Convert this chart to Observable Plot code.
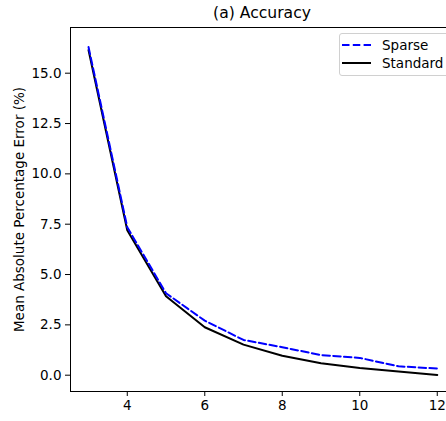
<!DOCTYPE html>
<html>
<head>
<meta charset="utf-8">
<script src="https://cdn.jsdelivr.net/npm/d3@7"></script>
<script src="https://cdn.jsdelivr.net/npm/@observablehq/plot@0.6"></script>
<style>
  html, body { margin: 0; padding: 0; background: #fff; overflow: hidden; }
  #wrap { position: relative; width: 446px; height: 421px; font-family: "DejaVu Sans", sans-serif; }
  #chart svg, #chart svg g, #chart svg text { font-family: "DejaVu Sans" !important; font-size: 13.5px !important; }
  #title { position: absolute; left: 70px; width: 384px; top: 4px; text-align: center; font-size: 15.6px; color: #000; }
  #legend { position: absolute; left: 339px; top: 33px; width: 120px; height: 43px; border: 1px solid #d0d0d0; border-radius: 3px; background: rgba(255,255,255,0.8); box-sizing: border-box; font-size: 13.5px; }
  .row { position: absolute; left: 0; height: 16px; }
  .row svg { position: absolute; left: 1px; top: 0; }
  .row span { position: absolute; left: 42px; top: 0; white-space: nowrap; line-height: 16px; }
</style>
</head>
<body>
<div id="wrap">
  <div id="chart"></div>
  <div id="title"></div>
  <div id="legend"></div>
</div>
<script>
const titleText = "(a) Accuracy";
const yLabel = "Mean Absolute Percentage Error (%)";
const seriesNames = ["Sparse", "Standard"];
const seriesColors = ["#0000ff", "#000000"];
const seriesDash = ["7.5,3.3", null];
const xValues = [3, 4, 5, 6, 7, 8, 9, 10, 11, 12];
const sparseValues = [16.3, 7.35, 4.07, 2.71, 1.75, 1.39, 1.0, 0.86, 0.44, 0.33];
const standardValues = [16.15, 7.2, 3.92, 2.38, 1.52, 0.97, 0.59, 0.36, 0.18, 0.01];
const xTicks = [4, 6, 8, 10, 12];
const yTicks = [0, 2.5, 5, 7.5, 10, 12.5, 15];

const sparse = xValues.map((x, i) => ({x, y: sparseValues[i]}));
const standard = xValues.map((x, i) => ({x, y: standardValues[i]}));

const plot = Plot.plot({
  width: 446,
  height: 421,
  marginLeft: 70,
  marginRight: -2,
  marginTop: 27,
  marginBottom: 30,
  style: {fontFamily: "'DejaVu Sans', sans-serif", fontSize: "13.5px", color: "#000", background: "#fff"},
  x: {domain: [2.535, 12.29]},
  y: {domain: [-0.81, 17.27]},
  marks: [
    Plot.axisX({ticks: xTicks, tickSize: 5, tickPadding: 4, tickFormat: d => String(d), label: null}),
    Plot.axisY({ticks: yTicks, tickSize: 5, tickPadding: 4, tickFormat: d3.format(".1f"), label: null}),
    Plot.frame({stroke: "#000", strokeWidth: 1}),
    Plot.text([yLabel], {frameAnchor: "left", dx: -51, rotate: -90, textAnchor: "middle"}),
    Plot.line(standard, {x: "x", y: "y", stroke: seriesColors[1], strokeWidth: 2}),
    Plot.line(sparse, {x: "x", y: "y", stroke: seriesColors[0], strokeWidth: 2, strokeDasharray: seriesDash[0]})
  ]
});
document.getElementById("chart").appendChild(plot);
document.getElementById("title").textContent = titleText;

const legend = document.getElementById("legend");
seriesNames.forEach((name, i) => {
  const row = document.createElement("div");
  row.className = "row";
  row.style.top = (3 + i * 18) + "px";
  row.innerHTML = `<svg width="32" height="16"><line x1="1" x2="30" y1="8" y2="8" stroke="${seriesColors[i]}" stroke-width="2" ${seriesDash[i] ? `stroke-dasharray="${seriesDash[i]}"` : ""}/></svg><span>${name}</span>`;
  legend.appendChild(row);
});
</script>
</body>
</html>
